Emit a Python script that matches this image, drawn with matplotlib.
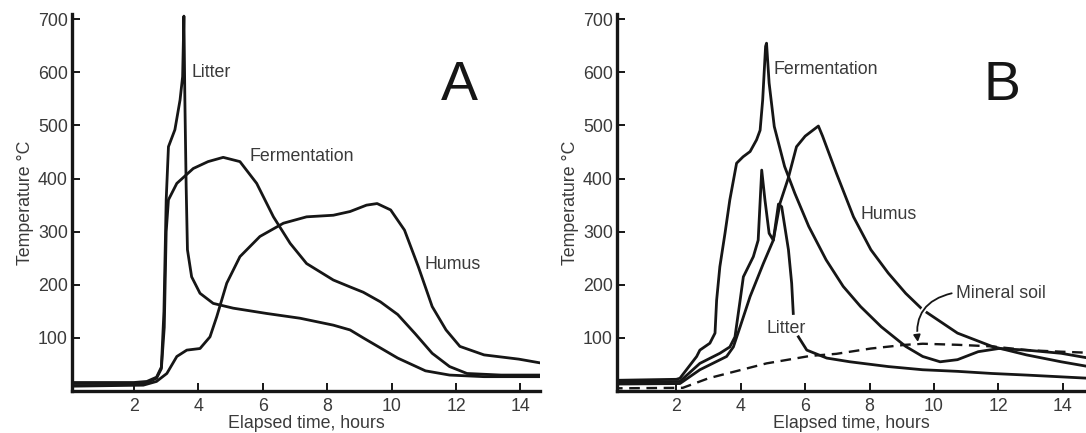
import matplotlib
matplotlib.use("Agg")
import matplotlib.pyplot as plt
import matplotlib.patheffects as pe
import numpy as np

plt.rcParams['font.family'] = ['Liberation Sans', 'DejaVu Sans']

# ---- Panel A data (hours, deg C) ----
a_litter_x = [0, 2.0, 2.4, 2.7, 2.85, 2.93, 3.0, 3.07, 3.27, 3.43, 3.51, 3.55, 3.58, 3.62, 3.66,
              3.79, 4.05, 4.46, 5.08, 6.12, 7.16, 8.19, 8.71, 9.12, 10.19, 11.05, 11.8, 12.87, 14.7]
a_litter_y = [16, 16, 18, 26, 45, 150, 360, 460, 492, 548, 592, 706, 548, 385, 266,
              215, 184, 165, 156, 146, 137, 124, 115, 100, 62, 38, 30, 27, 27]

a_ferm_x = [0, 2.0, 2.4, 2.7, 2.85, 2.94, 3.0, 3.07, 3.33, 3.84, 4.3, 4.77, 5.29, 5.81, 6.33,
            6.85, 7.36, 8.19, 8.71, 9.12, 9.65, 10.19, 10.73, 11.26, 11.8, 12.34, 13.4, 14.7]
a_ferm_y = [14, 14, 16, 24, 42, 120, 300, 360, 391, 419, 432, 440, 432, 391, 328,
            278, 240, 209, 196, 186, 168, 144, 108, 71, 46, 33, 30, 30]

a_humus_x = [0, 2.29, 2.7, 3.02, 3.33, 3.64, 4.05, 4.36, 4.57, 4.88, 5.29, 5.91, 6.64, 7.36,
             8.19, 8.71, 9.22, 9.55, 9.97, 10.4, 10.83, 11.26, 11.69, 12.12, 12.87, 13.95, 14.7]
a_humus_y = [9, 11, 18, 33, 65, 77, 80, 102, 140, 203, 253, 291, 316, 328,
             331, 338, 350, 353, 341, 303, 234, 159, 115, 84, 68, 60, 52]

# ---- Panel B data ----
b_ferm_x = [0, 2.0, 2.11, 2.63, 2.73, 3.04, 3.2, 3.25, 3.35, 3.51, 3.66, 3.87, 4.07, 4.29, 4.49,
            4.6, 4.68, 4.77, 4.8, 4.88, 5.04, 5.36, 5.68, 6.11, 6.65, 7.18, 7.72, 8.36, 9.12,
            9.65, 10.19, 10.73, 11.37, 12.01, 12.87, 13.95, 14.8]
b_ferm_y = [20, 22, 24, 65, 77, 90, 109, 171, 234, 297, 360, 429, 441, 451, 473,
            491, 548, 649, 655, 580, 498, 423, 372, 310, 247, 197, 159, 121, 84,
            65, 55, 59, 74, 80, 77, 71, 62]

b_litter_x = [0, 2.11, 2.73, 3.35, 3.66, 3.82, 3.98, 4.08, 4.39, 4.54, 4.65, 4.75, 4.88, 5.01,
              5.17, 5.27, 5.48, 5.58, 5.63, np.nan, 5.79, 6.05, 6.67, 7.39, 8.58, 9.65, 10.73,
              11.8, 12.87, 14.8]
b_litter_y = [16, 18, 52, 71, 83, 102, 171, 215, 253, 284, 416, 360, 297, 284,
              352, 347, 266, 203, 146, np.nan, 102, 77, 62, 55, 46, 40, 37,
              33, 30, 24]

b_humus_x = [0, 2.11, 2.73, 3.56, 3.77, 3.98, 4.29, 4.7, 5.01, 5.22, 5.47, 5.73, 6.0, 6.41,
             6.54, 6.97, 7.5, 8.04, 8.58, 9.12, 9.65, 10.73, 11.8, 12.87, 13.95, 14.8]
b_humus_y = [13, 14, 40, 65, 83, 121, 178, 240, 284, 354, 400, 460, 480, 499,
             480, 410, 328, 266, 222, 184, 153, 109, 84, 68, 55, 46]

b_mineral_x = [0, 2.2, 3.0, 3.77, 4.8, 6.15, 6.97, 8.04, 9.12, 9.65, 10.73, 11.8,
               12.87, 13.95, 14.8]
b_mineral_y = [5, 6, 24, 36, 52, 66, 70, 80, 87, 89, 87, 84, 77, 74, 72]

x_ticks = [2, 4, 6, 8, 10, 12, 14]
y_ticks = [100, 200, 300, 400, 500, 600, 700]

line_col = '#161616'
text_col = '#3a3a3a'
lw = 2.0
fs = 12.8

fig = plt.figure(figsize=(10.86, 4.33), dpi=100)
axA = fig.add_axes([0.0663, 0.097, 0.431, 0.8707])
axB = fig.add_axes([0.5681, 0.097, 0.4319, 0.8707])


def style(ax, xlim):
    ax.set_xlim(*xlim)
    ax.set_ylim(0, 710)
    ax.set_xticks(x_ticks)
    ax.set_yticks(y_ticks)
    for s in ['top', 'right']:
        ax.spines[s].set_visible(False)
    for s in ['left', 'bottom']:
        ax.spines[s].set_linewidth(2.4)
        ax.spines[s].set_color(line_col)
    ax.tick_params(direction='in', length=6, width=1.4, color=line_col,
                   labelsize=fs, labelcolor=text_col, pad=3)
    ax.tick_params(axis='x', pad=5)
    ax.set_xlabel('Elapsed time, hours', fontsize=fs, color=text_col, labelpad=0)
    ax.set_ylabel('Temperature °C', fontsize=fs, color=text_col, labelpad=3)


style(axA, (0.075, 14.61))
style(axB, (0.155, 14.72))

# Panel A
axA.plot(a_humus_x, a_humus_y, color=line_col, lw=lw)
axA.plot(a_ferm_x, a_ferm_y, color=line_col, lw=lw)
axA.plot(a_litter_x, a_litter_y, color=line_col, lw=lw)
axA.text(3.8, 600, 'Litter', fontsize=fs, color=text_col, va='center')
axA.text(5.6, 441, 'Fermentation', fontsize=fs, color=text_col, va='center')
axA.text(11.03, 239, 'Humus', fontsize=fs, color=text_col, va='center')
axA.text(12.1, 575, 'A', fontsize=40, color=line_col, ha='center', va='center')

# Panel B
axB.plot(b_mineral_x, b_mineral_y, color=line_col, lw=1.7, ls=(0, (4.5, 2.8)))
axB.plot(b_humus_x, b_humus_y, color=line_col, lw=lw)
axB.plot(b_ferm_x, b_ferm_y, color=line_col, lw=lw)
axB.plot(b_litter_x, b_litter_y, color=line_col, lw=lw)
axB.text(5.02, 605, 'Fermentation', fontsize=fs, color=text_col, va='center')
axB.text(7.72, 333, 'Humus', fontsize=fs, color=text_col, va='center')
axB.text(4.8, 118, 'Litter', fontsize=fs, color=text_col, va='center')
axB.text(10.67, 184, 'Mineral soil', fontsize=fs, color=text_col, va='center')
axB.annotate('', xy=(9.5, 92), xytext=(10.55, 184),
             arrowprops=dict(arrowstyle='-|>', color=line_col, lw=1.3,
                             connectionstyle='arc3,rad=0.45', mutation_scale=10,
                             shrinkA=0, shrinkB=0,
                             path_effects=[pe.Stroke(linewidth=4, foreground='white'), pe.Normal()]))
axB.text(12.1, 575, 'B', fontsize=40, color=line_col, ha='center', va='center')

fig.savefig('out.png', dpi=100)
